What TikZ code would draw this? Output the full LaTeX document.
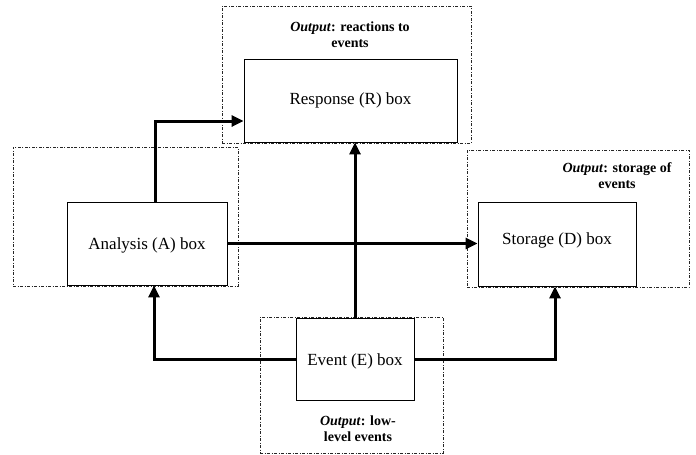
\documentclass[tikz,border=0pt]{standalone}
\usepackage{fontspec}
\setmainfont{Liberation Serif}
\usetikzlibrary{fit,arrows.meta}
\begin{document}
\begin{tikzpicture}[x=1pt,y=-1pt,
  frame/.style={draw=black!85, line width=0.8pt,
    dash pattern=on 3pt off 1.5pt on 1pt off 1.5pt, inner sep=0pt},
  unitbox/.style={draw=black, line width=0.9pt, fill=white, inner sep=0pt},
  boxlabel/.style={inner sep=0pt, font=\fontsize{17}{20}\selectfont},
  note/.style={align=center, font=\fontsize{14}{16}\selectfont\bfseries},
  flow/.style={line width=3pt, -{Triangle[length=12pt,width=11pt]}}]
\useasboundingbox (0,0) rectangle (696,455);

% dashed output regions
\node[frame, fit={(222,6) (471,143)}] (Rf) {};
\node[frame, fit={(13,147) (238,286)}] (Af) {};
\node[frame, fit={(467,150) (689,287)}] (Df) {};
\node[frame, fit={(260,317) (443,453)}] (Ef) {};

% processing boxes
\node[unitbox, fit={(244,59) (457,142)}] (R) {};
\node[unitbox, fit={(67,202) (227,285)}] (A) {};
\node[unitbox, fit={(478,202) (636,286)}] (D) {};
\node[unitbox, fit={(296,318) (414,400)}] (E) {};

% box captions
\node[boxlabel] (Rl) at (R.center) {Response (R) box};
\node[boxlabel] (Al) at ([yshift=-1.5pt]A.center) {Analysis (A) box};
\node[boxlabel] (Dl) at ([yshift=4pt]D.center) {Storage (D) box};
\node[boxlabel] (El) at ([yshift=-2pt]E.center) {Event (E) box};

% output notes
\node[note] (Rn) at (350,35) {\textit{Output}: reactions to\\events};
\node[note] (Dn) at (617,176) {\textit{Output}: storage of\\events};
\node[note] (En) at (358,429) {\textit{Output}: low-\\level events};

% data flow
\draw[flow] ([xshift=8pt]A.north) |- ([yshift=-20.5pt]R.west);
\draw[flow] (A.east) -- (A.east -| D.west);
\draw[flow] (E.north) -- (E.north |- R.south);
\draw[flow] (E.west) -| ([xshift=7pt]A.south);
\draw[flow] (E.east) -| ([xshift=-2pt]D.south);
\end{tikzpicture}
\end{document}
